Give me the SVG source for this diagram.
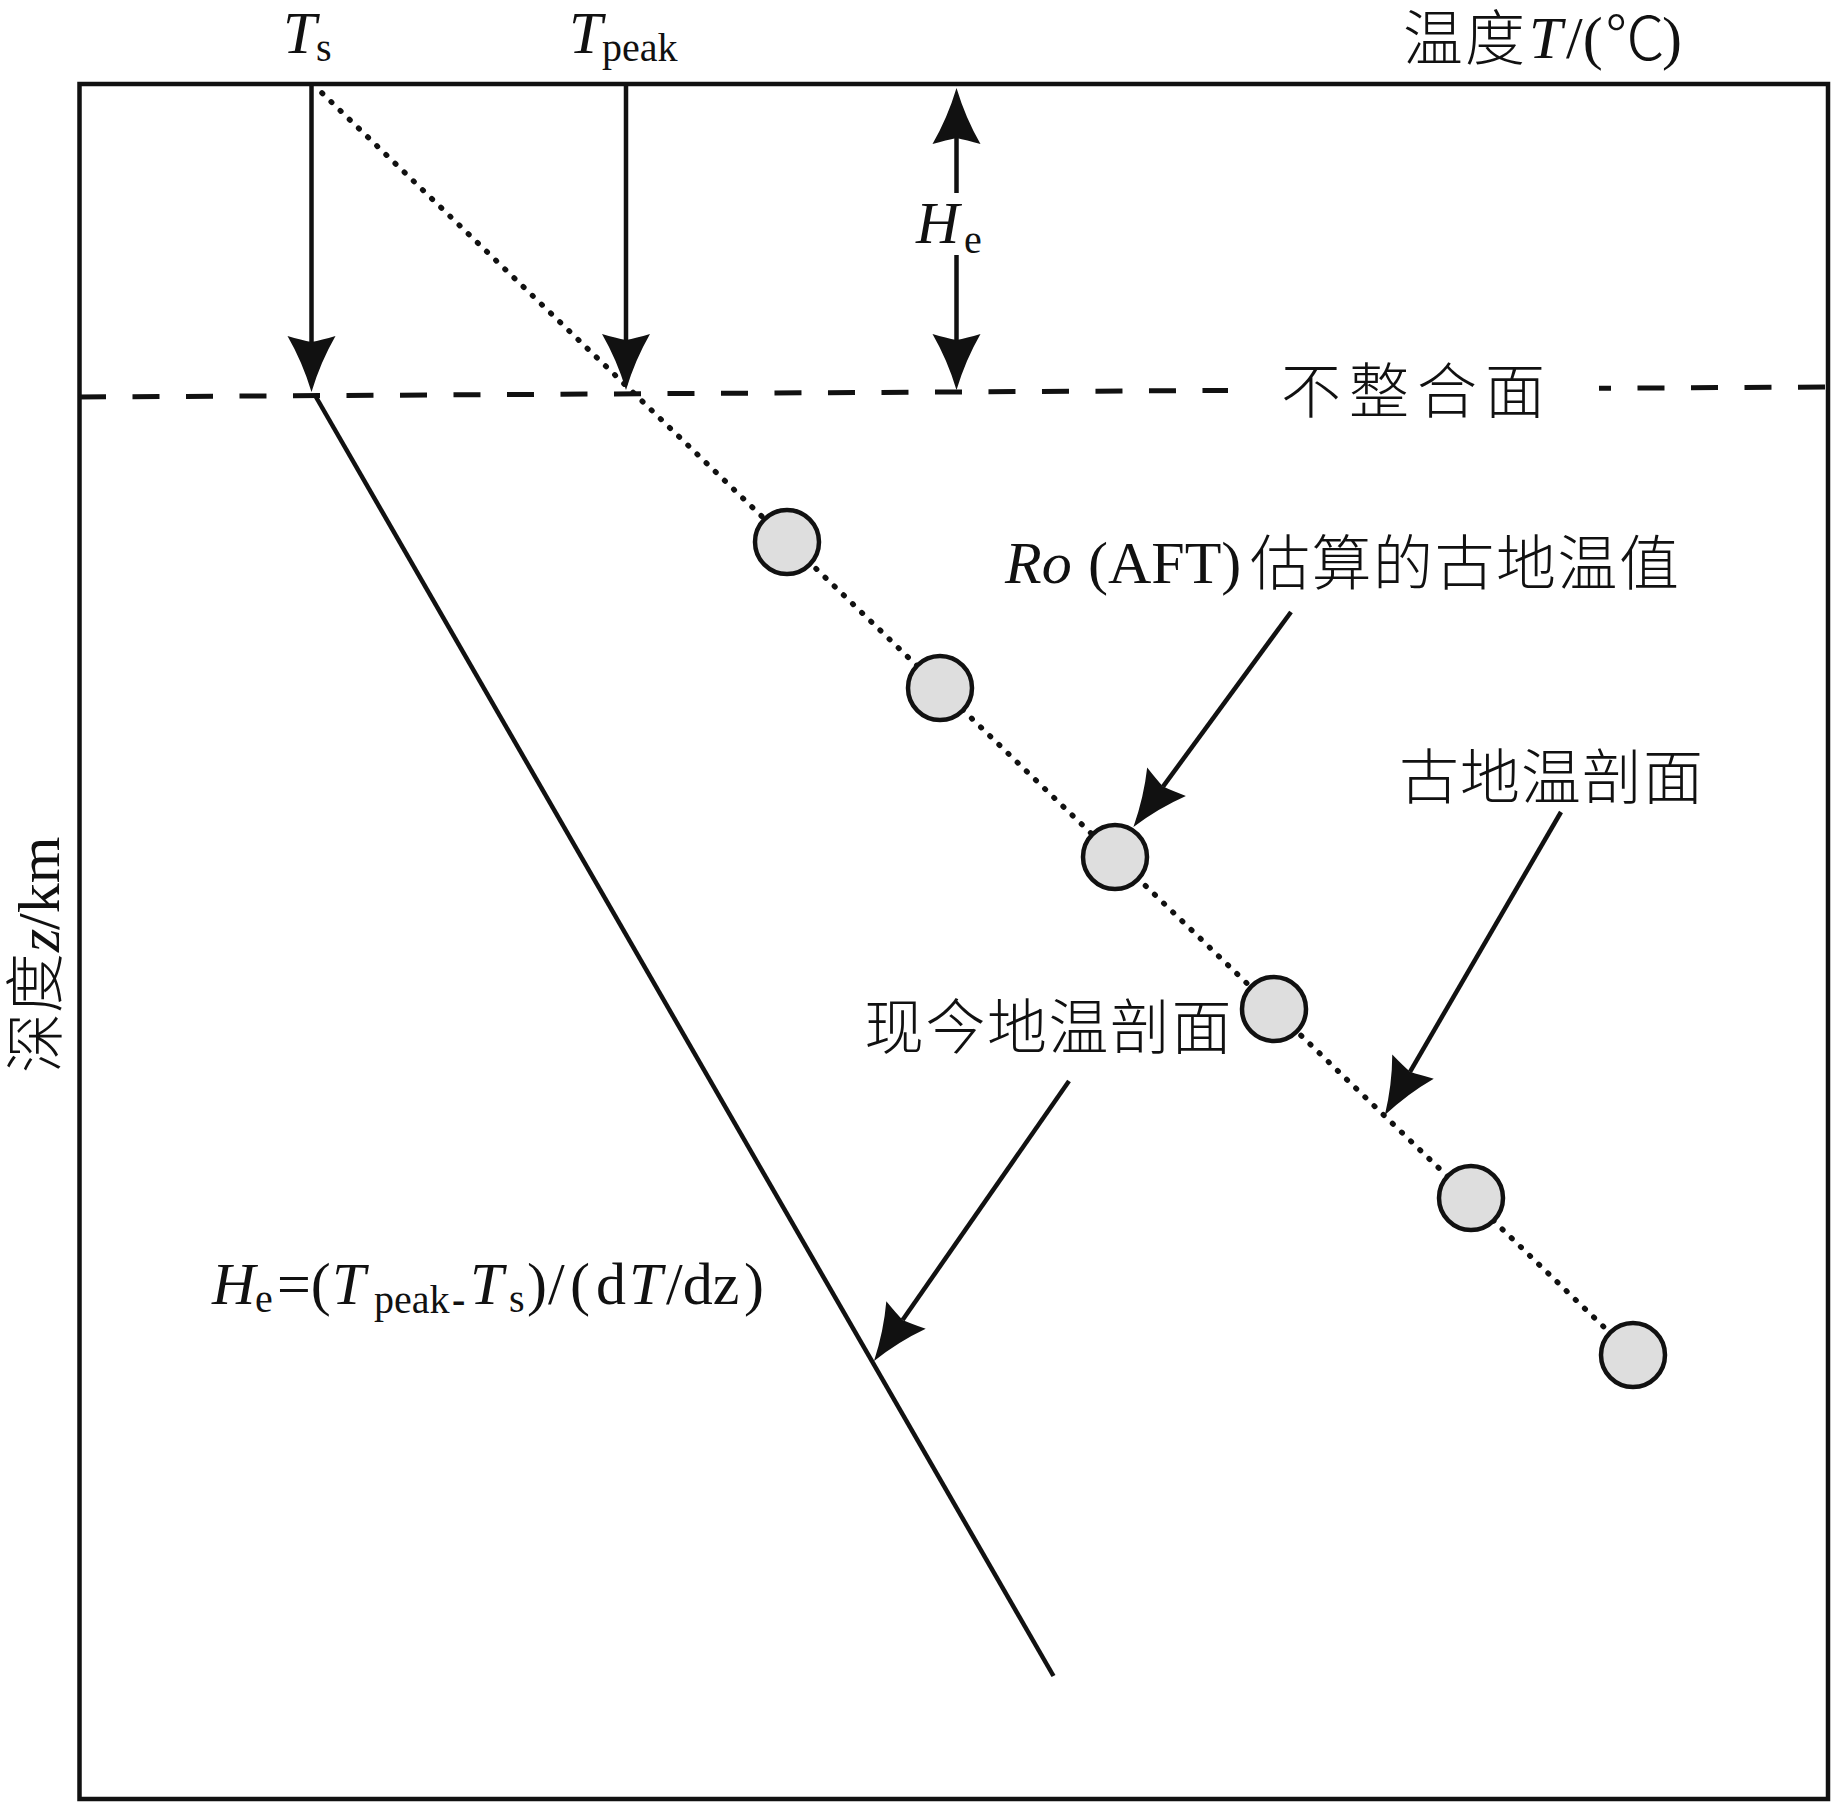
<svg xmlns="http://www.w3.org/2000/svg" width="1833" height="1802" viewBox="0 0 1833 1802">
<style>
.lat{font-family:"Liberation Serif","Times New Roman",serif;font-size:60px;fill:#111}
.it{font-style:italic}
.sub{font-size:40px}
.cjk{font-family:"Noto Sans CJK SC","Noto Sans CJK JP",sans-serif;font-size:60px;font-weight:300;fill:#111}
.ln{stroke:#111;fill:none;stroke-width:4.5}
.dot{fill:#dedede;stroke:#111;stroke-width:4.5}
</style>
<defs>
<marker id="ah" markerUnits="userSpaceOnUse" orient="auto" viewBox="-10 -30 65 60" refX="0" refY="0" markerWidth="65" markerHeight="60" overflow="visible">
<path d="M50,0 Q20,-9 -6,-24 Q-2,-10 0,0 Q-2,10 -6,24 Q20,9 50,0 Z" fill="#111"/>
</marker>
</defs>
<rect width="1833" height="1802" fill="#fff"/>
<g id="frame">
<rect x="79.5" y="84" width="1748.5" height="1715" fill="none" stroke="#111" stroke-width="4.5"/>
</g>
<g id="unconformity">
<line x1="79" y1="397" x2="1228" y2="390.4" stroke="#111" stroke-width="5" stroke-dasharray="27 26.5"/>
<line x1="1599" y1="388.3" x2="1826" y2="387" stroke="#111" stroke-width="5" stroke-dasharray="27 26.5" stroke-dashoffset="15"/>
<text class="cjk" x="1281" y="413" letter-spacing="8">不整合面</text>
</g>
<g id="connectors">
<line class="ln" x1="311.5" y1="84" x2="311.5" y2="342" marker-end="url(#ah)"/>
<line class="ln" x1="626" y1="84" x2="626" y2="340" marker-end="url(#ah)"/>
<line class="ln" x1="956.5" y1="193" x2="956.5" y2="138" marker-end="url(#ah)"/>
<line class="ln" x1="956.5" y1="255" x2="956.5" y2="340" marker-end="url(#ah)"/>
<line class="ln" x1="1291" y1="612" x2="1163" y2="786.6" marker-end="url(#ah)" stroke-width="4"/>
<line class="ln" x1="1561" y1="812" x2="1410" y2="1071.8" marker-end="url(#ah)" stroke-width="4"/>
<line class="ln" x1="1069" y1="1081" x2="902.6" y2="1320" marker-end="url(#ah)" stroke-width="4"/>
</g>
<g id="present-geotherm">
<line class="ln" x1="316" y1="397" x2="1053.5" y2="1676" stroke-width="4"/>
</g>
<g id="paleo-geotherm">
<line x1="322" y1="93" x2="1633" y2="1355" stroke="#111" stroke-width="5.5" stroke-linecap="round" stroke-dasharray="0.8 11.9"/>
</g>
<g id="samples">
<circle class="dot" cx="787" cy="542" r="32"/>
<circle class="dot" cx="940" cy="688" r="32"/>
<circle class="dot" cx="1115" cy="857" r="32"/>
<circle class="dot" cx="1274" cy="1009" r="32"/>
<circle class="dot" cx="1471" cy="1198" r="32"/>
<circle class="dot" cx="1633" cy="1355" r="32"/>
</g>
<g id="label-Ts">
<text class="lat"><tspan class="it" x="283" y="53">T</tspan><tspan class="sub" x="316" y="61">s</tspan></text>
</g>
<g id="label-Tpeak">
<text class="lat"><tspan class="it" x="569" y="53">T</tspan><tspan class="sub" x="602" y="61">peak</tspan></text>
</g>
<g id="label-temp">
<text class="cjk" x="1403" y="60" letter-spacing="2">温度</text>
<text class="lat"><tspan class="it" x="1529" y="58">T</tspan><tspan x="1566" y="58">/(</tspan></text>
<text class="cjk" x="1605" y="60" font-size="53">℃</text>
<text class="lat" x="1662" y="58">)</text>
</g>
<g id="label-He">
<text class="lat"><tspan class="it" x="916" y="243">H</tspan><tspan class="sub" x="964" y="253">e</tspan></text>
</g>
<g id="label-Ro">
<text class="lat"><tspan class="it" x="1005" y="583">Ro</tspan><tspan x="1088" y="583">(AFT)</tspan></text>
<text class="cjk" x="1250" y="585" font-size="61" letter-spacing="1.5">估算的古地温值</text>
</g>
<g id="label-paleo">
<text class="cjk" x="1399" y="799" letter-spacing="1">古地温剖面</text>
</g>
<g id="label-present">
<text class="cjk" x="864" y="1049" letter-spacing="1.5">现今地温剖面</text>
</g>
<g id="formula">
<text class="lat"><tspan class="it" x="212" y="1304">H</tspan><tspan class="sub" x="255" y="1312">e</tspan><tspan x="277" y="1304">=(</tspan><tspan class="it" x="332" y="1304">T</tspan><tspan class="sub" x="374" y="1313">peak</tspan><tspan class="sub" x="452" y="1313" font-weight="bold">-</tspan><tspan class="it" x="470" y="1304">T</tspan><tspan class="sub" x="509" y="1312">s</tspan><tspan x="527" y="1304">)</tspan><tspan x="548" y="1304">/</tspan><tspan x="570" y="1304">(</tspan><tspan x="596" y="1304">d</tspan><tspan class="it" x="629" y="1304">T</tspan><tspan x="666" y="1304">/dz</tspan><tspan x="744" y="1304">)</tspan></text>
</g>
<g id="label-depth" transform="translate(59,1073) rotate(-90)">
<text class="cjk" x="0" y="-2">深度</text>
<text class="lat"><tspan class="it" x="121" y="0">z</tspan><tspan x="143" y="0">/km</tspan></text>
</g>
</svg>
